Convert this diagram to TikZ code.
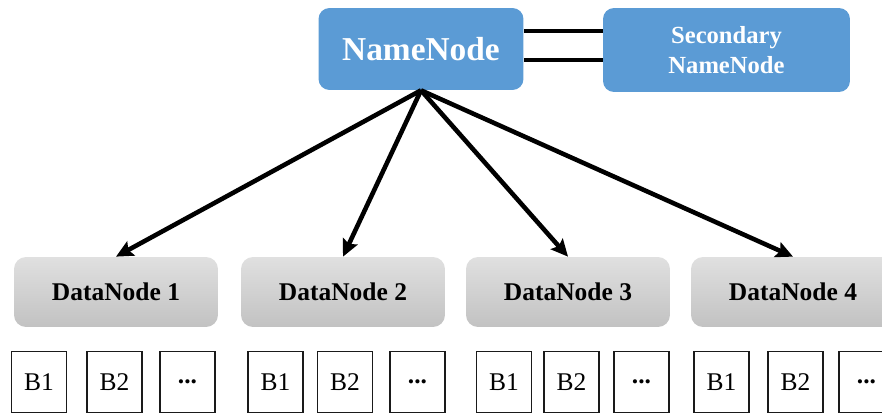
\documentclass[tikz,border=0pt]{standalone}
\usepackage{fontspec}
\setmainfont{Liberation Serif}
\usepackage{xcolor}
\definecolor{cMain}{HTML}{5B9BD5}
\definecolor{cGrayTop}{HTML}{E0E0E0}
\definecolor{cGrayBot}{HTML}{C2C2C2}
\definecolor{cLine}{HTML}{1A1A1A}
\usetikzlibrary{positioning,arrows.meta,calc}
\tikzset{
  node-name/.style={fill=cMain,draw=none,rounded corners=2.2mm,
    minimum height=16.4mm,minimum width=41mm,align=center,
    text=white,font=\fontsize{19}{23}\selectfont\bfseries},
  node-second/.style={fill=cMain,draw=none,rounded corners=2.2mm,
    minimum height=16.8mm,minimum width=49.4mm,align=center,
    text=white,font=\fontsize{14}{17}\selectfont\bfseries},
  node-data/.style={top color=cGrayTop,bottom color=cGrayBot,draw=none,
    rounded corners=2.4mm,minimum height=14mm,minimum width=40.8mm,
    align=center,font=\fontsize{14.5}{17}\selectfont\bfseries},
  node-block/.style={draw=cLine,line width=0.6pt,fill=white,
    minimum height=12.2mm,minimum width=11mm,inner sep=0pt,
    font=\fontsize{14.5}{17}\selectfont},
  arrow/.style={-{Stealth[length=3.4mm,width=3.2mm,inset=0.6mm]},
    line width=2.6pt,draw=black},
  link/.style={line width=2.8pt,draw=black},
}
\begin{document}
\begin{tikzpicture}[x=0.02cm,y=0.02cm]
  \useasboundingbox (0,0) rectangle (882,416);
  \node[node-name]   (name) at (421,367)   {NameNode};
  \node[node-second] (sec)  at (726.5,366) {Secondary\\NameNode};
  \draw[link] ([yshift=3.6mm]name.east) -- ([yshift=3.6mm]name.east -| sec.west);
  \draw[link] ([yshift=-2.2mm]name.east) -- ([yshift=-2.2mm]name.east -| sec.west);
  % data nodes and their blocks
  \foreach \d/\x/\xa/\xb/\xc in {1/116/39/114.5/187.5, 2/343/275.5/345/417.5,
      3/568/504/571.5/641.5, 4/793/721.5/795.5/866.5} {
    \node[node-data] (dn\d) at (\x,124) {DataNode \d};
    \node[node-block] (b\d-1) at (\xa,34) {B1};
    \node[node-block] (b\d-2) at (\xb,34) {B2};
    \node[node-block] (b\d-3) at (\xc,34) {\bfseries ...};
    \draw[arrow] (name.south) -- (dn\d.north);
  }
\end{tikzpicture}
\end{document}
